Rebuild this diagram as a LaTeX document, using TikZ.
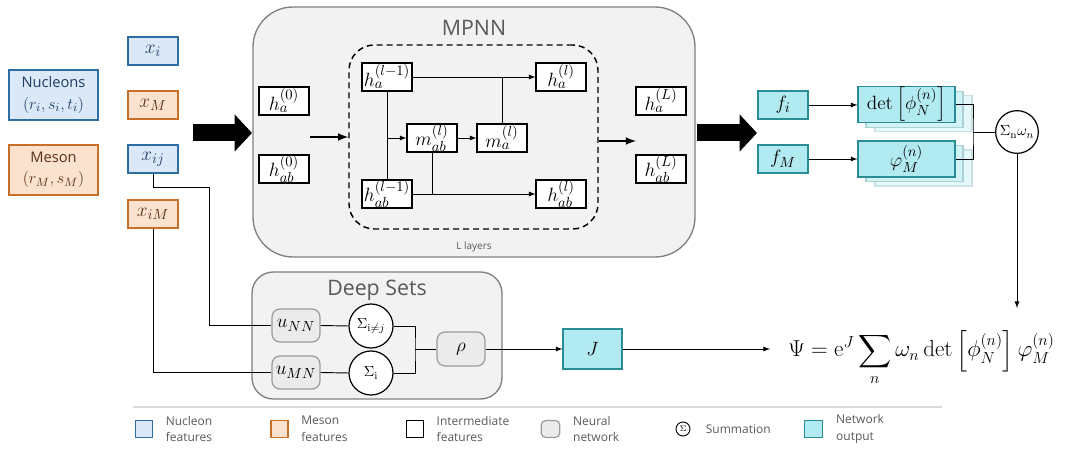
\documentclass[tikz,border=0pt]{standalone}
\usepackage{amsmath}
\usepackage[no-math]{fontspec}
\setmainfont{Open Sans}
\usetikzlibrary{arrows,arrows.meta,positioning,calc,shadows}
\definecolor{nucfill}{HTML}{DAE8F7}
\definecolor{nucline}{HTML}{2E6DA4}
\definecolor{nuctext}{HTML}{1F3D66}
\definecolor{mesfill}{HTML}{FBE2CF}
\definecolor{mesline}{HTML}{C8702A}
\definecolor{mestext}{HTML}{5A3015}
\definecolor{outfill}{HTML}{B2EAF1}
\definecolor{outedge}{HTML}{2A8C94}
\definecolor{panelfill}{HTML}{F2F2F2}
\definecolor{panelline}{HTML}{808080}
\definecolor{nnfill}{HTML}{EBEBEB}
\definecolor{nnline}{HTML}{9A9A9A}
\definecolor{titlegray}{HTML}{595959}
\tikzset{
  feat/.style     = {shape=rectangle, draw, line width=0.9pt, inner sep=0pt,
                     minimum width=37.5pt, minimum height=21pt,
                     font=\fontsize{15}{17}\selectfont},
  nucl/.style     = {feat, fill=nucfill, draw=nucline, text=nuctext},
  meso/.style     = {feat, fill=mesfill, draw=mesline, text=mestext},
  inter/.style    = {feat, draw=black, fill=white, line width=0.8pt},
  outp/.style     = {feat, fill=outfill, draw=outedge},
  netw/.style     = {feat, fill=nnfill, draw=nnline, rounded corners=6pt},
  summ/.style     = {circle, draw, line width=0.9pt, fill=white, inner sep=0pt,
                     minimum size=32pt, font=\fontsize{11}{13}\selectfont},
  panel/.style    = {draw=panelline, fill=panelfill, line width=1pt},
  paneltitle/.style = {text=titlegray, font=\fontsize{16}{18}\selectfont},
  legtext/.style  = {align=left, text=titlegray, font=\fontsize{9}{12.5}\selectfont},
  bigarrow/.style = {line width=12.75pt, -{Triangle[length=13pt,width=27pt]}},
  wire/.style     = {line width=0.7pt}
}
\begin{document}
\begin{tikzpicture}[x=0.75pt,y=-0.75pt,>=latex]
\useasboundingbox (0,0) rectangle (1065,452);
% inputs
\node [nucl, minimum width=66.75pt, minimum height=37.5pt, align=center,
       font=\fontsize{11}{16}\selectfont] (nuc) at (53.5,95) {Nucleons\\\fontsize{13}{16}\selectfont$(r_i,s_i,t_i)$};
\node [meso, minimum width=66.75pt, minimum height=37.5pt, align=center,
       font=\fontsize{11}{16}\selectfont] (mes) at (53.5,170) {Meson\\\fontsize{13}{16}\selectfont$(r_M,s_M)$};
\node [nucl] (xi)  at (153,51)  {$x_i$};
\node [meso] (xM)  at (153,105) {$x_M$};
\node [nucl] (xij) at (153,159) {$x_{ij}$};
\node [meso] (xiM) at (153,214) {$x_{iM}$};
\coordinate (a1s) at (193,133);
\coordinate (a1e) at (252,133);
% MPNN
\draw [panel, rounded corners=30pt] (253,7) rectangle (695,257);
\node [paneltitle] (mpnn) at (474,28) {MPNN};
\draw [bigarrow] (a1s) -- (a1e);
\node [inter] (ha0)  at (284,101) {$h_a^{(0)}$};
\node [inter] (hab0) at (284,169) {$h_{ab}^{(0)}$};
\node [draw, dashed, dash pattern=on 4.5pt off 3pt, line width=1.1pt, rounded corners=19pt,
       minimum width=186.75pt, minimum height=138pt] (layers) at (473.5,137) {};
\node [text=titlegray, font=\fontsize{7.5}{9}\selectfont] (llab) at (474,247) {L layers};
\node [inter] (hal1)  at (387,77)  {$h_a^{(l-1)}$};
\node [inter] (habl1) at (387,194) {$h_{ab}^{(l-1)}$};
\node [inter] (mab)   at (432,138) {$m_{ab}^{(l)}$};
\node [inter] (ma)    at (502,138) {$m_a^{(l)}$};
\node [inter] (hal)   at (561,77)  {$h_a^{(l)}$};
\node [inter] (habl)  at (561,194) {$h_{ab}^{(l)}$};
\node [inter] (haL)   at (661,101) {$h_a^{(L)}$};
\node [inter] (habL)  at (661,169) {$h_{ab}^{(L)}$};
\coordinate (inS)  at (310,137);
\coordinate (outE) at (636,141);
\draw [->, line width=1.6pt] (inS) -- (layers.west |- inS);
\draw [->, line width=1.6pt] (layers.east |- outE) -- (outE);
\draw [wire, ->] (hal1.east) -- (hal.west);
\draw [wire] (ma.north) -- (ma.north |- hal1.east);
\draw [wire] (hal1.south) -- (habl1.north);
\draw [wire, ->] (hal1.south |- mab.west) -- (mab.west);
\draw [wire, ->] (mab.east) -- (ma.west);
\draw [wire, ->] (habl1.east) -- (habl.west);
\draw [wire] (mab.south) -- (mab.south |- habl1.east);
% outputs
\coordinate (a2s) at (697,133);
\coordinate (a2e) at (757,133);
\draw [bigarrow] (a2s) -- (a2e);
\node [outp] (fi) at (783,105) {$f_i$};
\node [outp] (fM) at (783,159) {$f_M$};
\node [outp, minimum width=72.75pt, minimum height=27pt,
       general shadow={shadow xshift=12.75pt, shadow yshift=-6.75pt, fill=outfill!35, draw=outedge!25, line width=0.9pt},
       general shadow={shadow xshift=6pt, shadow yshift=-3.5pt, fill=outfill!60, draw=outedge!40, line width=0.9pt}]
       (det) at (906.5,104.5) {$\det\left[\phi_N^{(n)}\right]$};
\node [outp, minimum width=72.75pt, minimum height=27pt,
       general shadow={shadow xshift=12.75pt, shadow yshift=-6.75pt, fill=outfill!35, draw=outedge!25, line width=0.9pt},
       general shadow={shadow xshift=6pt, shadow yshift=-3.5pt, fill=outfill!60, draw=outedge!40, line width=0.9pt}]
       (phi) at (906.5,159) {$\varphi_M^{(n)}$};
\node [summ] (sumn) at (1017,132) {$\Sigma_{\mathrm{n}}\omega_n$};
\coordinate (jn) at (973,132);
\coordinate (psiT) at (1017,308);
\draw [wire, ->] (fi.east) -- (det.west |- fi.east);
\draw [wire, ->] (fM.east) -- (phi.west |- fM.east);
\draw [wire] (det.east) -| (jn) |- (phi.east);
\draw [wire] (jn) -- (sumn.west);
\draw [wire, ->] (sumn.south) -- (psiT);
% Deep Sets
\draw [panel, rounded corners=16pt] (252,272) rectangle (502,399);
\node [paneltitle] (dsets) at (377,290) {Deep Sets};
\node [netw, minimum width=36pt, minimum height=24.75pt] (uNN) at (296,325.5) {$u_{NN}$};
\node [netw, minimum width=36pt, minimum height=24.75pt] (uMN) at (296,372.5) {$u_{MN}$};
\node [summ, minimum size=33pt] (sij) at (371,326) {$\Sigma_{\mathrm{i}\neq j}$};
\node [summ, minimum size=33pt] (si)  at (371,373) {$\Sigma_{\mathrm{i}}$};
\node [netw, minimum width=36pt, minimum height=25.5pt] (rho) at (461,349) {$\rho$};
\node [outp, minimum width=44.25pt, minimum height=30pt] (J) at (592.5,349) {$J$};
\coordinate (j2) at (415,349);
\coordinate (b1) at (209,187);
\draw [wire] (xij.south) |- (b1) |- (uNN.west);
\draw [wire] (xiM.south) |- (uMN.west);
\draw [wire] (uNN.east) -- (sij.west);
\draw [wire] (uMN.east) -- (si.west);
\draw [wire] (sij.east) -| (j2) |- (si.east);
\draw [wire] (j2) -- (rho.west);
\draw [wire, ->] (rho.east) -- (J.west);
\node [anchor=base west, inner xsep=13.5pt, inner ysep=0pt, font=\fontsize{17}{20}\selectfont]
      (psi) at (770,357) {$\displaystyle \Psi = \mathrm{e}^{J}\sum_{n}\omega_n \det\left[\phi_N^{(n)}\right]\varphi_M^{(n)}$};
\draw [wire, ->] (J.east) -- (J.east -| psi.west);
% legend
\draw [draw=black!15, line width=1.5pt] (133,407) -- (942,407);
\node [nucl, minimum width=12.75pt, minimum height=12.75pt] (lgnuc) at (144,429) {};
\node [legtext, right=6pt of lgnuc] (lgnuct) {Nucleon\\features};
\node [meso, minimum width=12.75pt, minimum height=12.75pt] (lgmes) at (279.5,429) {};
\node [legtext, right=6pt of lgmes] (lgmest) {Meson\\features};
\node [inter, minimum width=12.75pt, minimum height=12.75pt] (lgint) at (415,429) {};
\node [legtext, right=6pt of lgint] (lgintt) {Intermediate\\features};
\node [netw, minimum width=14pt, minimum height=12.75pt, rounded corners=3.5pt] (lgnn) at (550.5,429) {};
\node [legtext, right=6pt of lgnn] (lgnnt) {Neural\\network};
\node [summ, minimum size=10.5pt, line width=0.7pt, font=\fontsize{6}{7}\selectfont] (lgsum) at (683,429) {$\Sigma$};
\node [legtext, right=8pt of lgsum] (lgsumt) {Summation};
\node [outp, minimum width=14pt, minimum height=12.75pt] (lgout) at (813.5,429) {};
\node [legtext, right=6pt of lgout] (lgoutt) {Network\\output};
\end{tikzpicture}
\end{document}
